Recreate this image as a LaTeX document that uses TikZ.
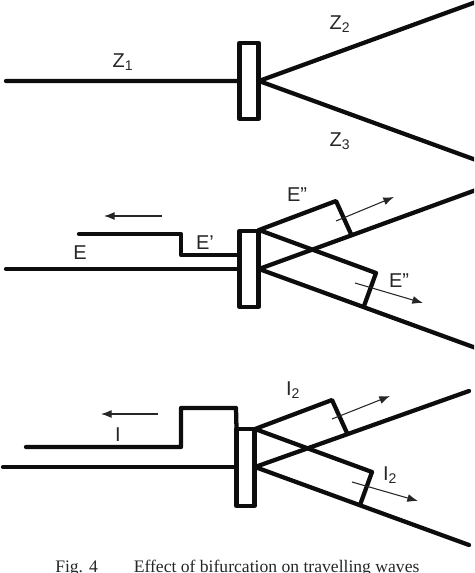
\documentclass[tikz,border=0pt]{standalone}
\usepackage{fontspec}
\setmainfont{Liberation Sans}
\newfontfamily\capfont{Liberation Serif}
\usetikzlibrary{arrows.meta}
\tikzset{
  x=0.75pt,y=-0.75pt,
  line/.style={draw=black!95,line width=3.2pt,line join=round,line cap=round},
  flow/.style={draw=black!85,line width=0.8pt,-{Latex[length=8pt,width=6pt]}},
  lab/.style={font=\fontsize{15pt}{17pt}\selectfont,inner sep=0pt,text=black!85},
}
\begin{document}
\begin{tikzpicture}
\useasboundingbox (0,0) rectangle (474,573);
\clip (0,0) rectangle (474,573);
% Panel 1
\coordinate (a1) at (6,81); \coordinate (aj) at (259,81);
\coordinate (a2) at (476,2); \coordinate (a3) at (476,160);
\coordinate (arTL) at (239.5,43); \coordinate (arBR) at (258.5,119);
\draw[line] (a1) -- (aj) -- (a2);
\draw[line] (aj) -- (a3);
\draw[line,fill=white] (arTL) rectangle (arBR);
\node[lab] (z1) at (123,62) {Z\textsubscript{1}};
\node[lab] (z2) at (340,24) {Z\textsubscript{2}};
\node[lab] (z3) at (340,141) {Z\textsubscript{3}};
% Panel 2
\coordinate (b1) at (6,269); \coordinate (bl) at (239,269);
\coordinate (bj) at (259,269); \coordinate (bt) at (259,230);
\coordinate (bu) at (476,190); \coordinate (bd) at (476,348);
\coordinate (brTL) at (239.5,231); \coordinate (brBR) at (258.5,307);
\coordinate (bw1) at (79,234); \coordinate (bw2) at (181,234);
\coordinate (bw3) at (181,255); \coordinate (bw4) at (239,255);
\coordinate (bp1) at (336,201); \coordinate (bp2) at (351,234);
\coordinate (bq1) at (376,273); \coordinate (bq2) at (364,306);
\draw[line] (b1) -- (bl);
\draw[line] (bw1) -- (bw2) -- (bw3) -- (bw4);
\draw[line,fill=white] (brTL) rectangle (brBR);
\draw[line] (bj) -- (bu);
\draw[line] (bj) -- (bd);
\draw[line] (bt) -- (bp1) -- (bp2);
\draw[line] (bt) -- (bq1) -- (bq2);
\coordinate (bf1s) at (162,216); \coordinate (bf1e) at (104,216);
\coordinate (bf2s) at (336,221); \coordinate (bf2e) at (394,197);
\coordinate (bf3s) at (355,283); \coordinate (bf3e) at (423,303);
\draw[flow] (bf1s) -- (bf1e);
\draw[flow] (bf2s) -- (bf2e);
\draw[flow] (bf3s) -- (bf3e);
\node[lab] (e) at (80,253) {E};
\node[lab] (e1) at (205,243) {E’};
\node[lab] (e2) at (297,195) {E”};
\node[lab] (e3) at (399,281) {E”};
% Panel 3
\coordinate (c1) at (3,467); \coordinate (cl) at (236,467);
\coordinate (cj) at (255,467); \coordinate (ct) at (255,429);
\coordinate (cu) at (469,391); \coordinate (cd) at (469,545);
\coordinate (crTL) at (236.5,429); \coordinate (crBR) at (254.5,506);
\coordinate (cw1) at (26,447); \coordinate (cw2) at (181,447);
\coordinate (cw3) at (181,408); \coordinate (cw4) at (236,408);
\coordinate (cp1) at (332,400); \coordinate (cp2) at (347,433);
\coordinate (cq1) at (372,472); \coordinate (cq2) at (360,505);
\draw[line] (c1) -- (cl);
\draw[line] (cw1) -- (cw2) -- (cw3) -- (cw4) -- (crTL);
\draw[line,fill=white] (crTL) rectangle (crBR);
\draw[line] (cj) -- (cu);
\draw[line] (cj) -- (cd);
\draw[line] (ct) -- (cp1) -- (cp2);
\draw[line] (ct) -- (cq1) -- (cq2);
\coordinate (cf1s) at (158,414); \coordinate (cf1e) at (101,414);
\coordinate (cf2s) at (332,419); \coordinate (cf2e) at (390,396);
\coordinate (cf3s) at (352,482); \coordinate (cf3e) at (418,501);
\draw[flow] (cf1s) -- (cf1e);
\draw[flow] (cf2s) -- (cf2e);
\draw[flow] (cf3s) -- (cf3e);
\node[lab] (i) at (118,435) {I};
\node[lab] (i2a) at (293,390) {I\textsubscript{2}};
\node[lab] (i2b) at (390,475) {I\textsubscript{2}};
% Caption
\node[anchor=base west,font=\capfont\fontsize{13.2pt}{16pt}\selectfont,inner sep=0pt,text=black!85] (cap) at (55,572.5)
  {Fig. 4\hspace{27pt}Effect of bifurcation on travelling waves};
\end{tikzpicture}
\end{document}
